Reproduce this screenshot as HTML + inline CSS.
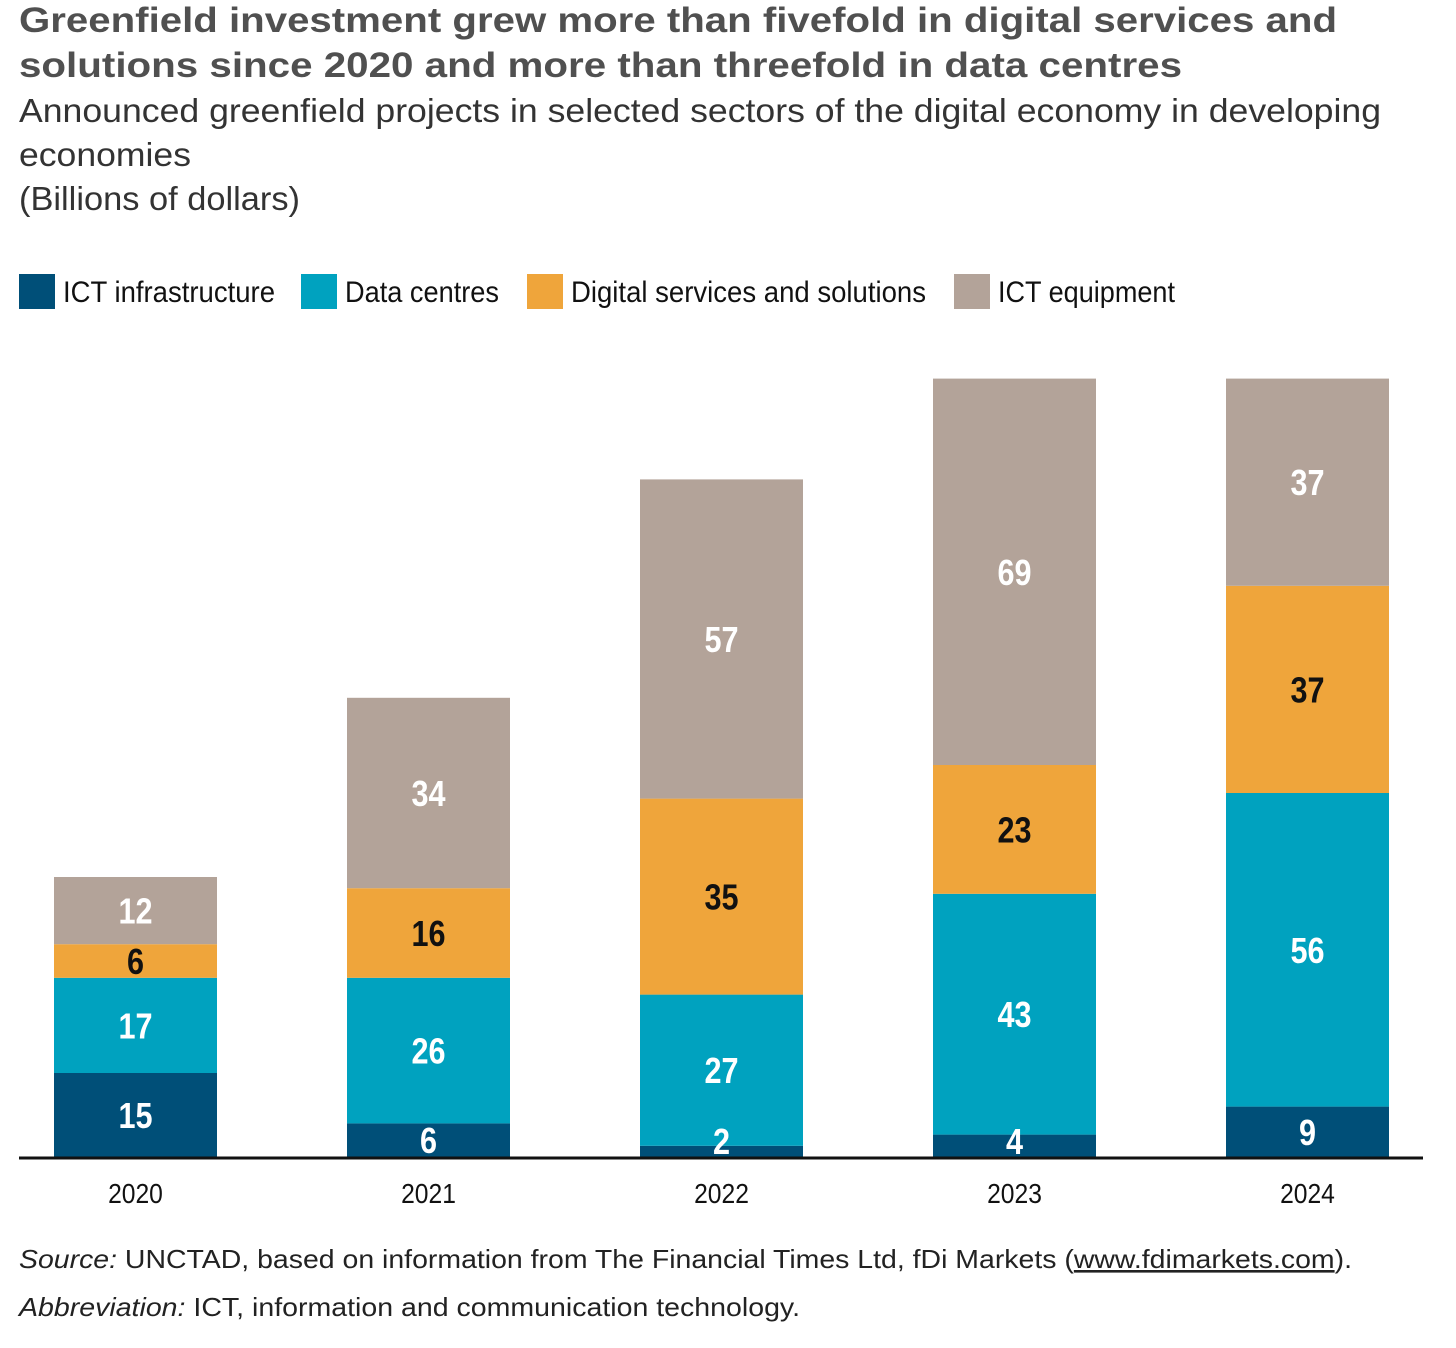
<!DOCTYPE html>
<html><head><meta charset="utf-8"><style>
html,body{margin:0;padding:0;background:#fff;}
svg{display:block;}
</style></head><body>
<svg id="chart" width="1456" height="1348" viewBox="0 0 1456 1348" xmlns="http://www.w3.org/2000/svg" font-family="Liberation Sans, sans-serif">
<text x="19" y="32" font-size="35" font-weight="bold" fill="#505050" textLength="1318" lengthAdjust="spacingAndGlyphs">Greenfield investment grew more than fivefold in digital services and</text>
<text x="19" y="77" font-size="35" font-weight="bold" fill="#505050" textLength="1163" lengthAdjust="spacingAndGlyphs">solutions since 2020 and more than threefold in data centres</text>
<text x="19" y="122" font-size="33" fill="#333" textLength="1362" lengthAdjust="spacingAndGlyphs">Announced greenfield projects in selected sectors of the digital economy in developing</text>
<text x="19" y="166" font-size="33" fill="#333" textLength="172" lengthAdjust="spacingAndGlyphs">economies</text>
<text x="19" y="210" font-size="33" fill="#333" textLength="281" lengthAdjust="spacingAndGlyphs">(Billions of dollars)</text>
<g id="legend"></g>
<g id="bars"></g>
<line x1="19" y1="1158" x2="1423" y2="1158" stroke="#111" stroke-width="3"/>
<g id="labels"></g>
<g id="xlabels"></g>
<text x="19" y="1268" font-size="26" fill="#222" textLength="1333" lengthAdjust="spacingAndGlyphs"><tspan font-style="italic">Source:</tspan> UNCTAD, based on information from The Financial Times Ltd, fDi Markets (<tspan text-decoration="underline">www.fdimarkets.com</tspan>).</text>
<text x="19" y="1316" font-size="26" fill="#222" textLength="781" lengthAdjust="spacingAndGlyphs"><tspan font-style="italic">Abbreviation:</tspan> ICT, information and communication technology.</text>
</svg>
<script>
const years = ["2020","2021","2022","2023","2024"];
const ictInfrastructure = [15,6,2,4,9];
const dataCentres = [17,26,27,43,56];
const digitalServices = [6,16,35,23,37];
const ictEquipment = [12,34,57,69,37];
const seriesNames = ["ICT infrastructure","Data centres","Digital services and solutions","ICT equipment"];

const NS="http://www.w3.org/2000/svg";
const colors=["#004f78","#00a2bf","#efa53b","#b3a399"];
const labelColors=["#fff","#fff","#111","#fff"];
const series=[ictInfrastructure,dataCentres,digitalServices,ictEquipment];
const baseY=1157, pxPerUnit=5.6;
const y=v=>baseY-v*pxPerUnit;
const x=i=>54+i*293;
const barW=163;
function mk(tag,attrs){const e=document.createElementNS(NS,tag);for(const k in attrs)e.setAttribute(k,attrs[k]);return e;}
const bars=document.getElementById('bars');
const labels=document.getElementById('labels');
years.forEach((yr,i)=>{
  let cum=0;
  series.forEach((s,j)=>{
    const v=s[i];
    const r=mk('rect',{x:x(i),y:y(cum+v),width:barW,height:v*pxPerUnit,fill:colors[j]});
    
    
    bars.appendChild(r);
    const cy=Math.min(y(cum+v/2),baseY-16);
    const cx=x(i)+barW/2;
    const t=mk('text',{x:cx,y:cy+13,'text-anchor':'middle','font-size':'36','font-weight':'bold',fill:labelColors[j]});
    
    
    t.setAttribute('transform','translate('+cx+',0) scale(0.85,1) translate('+(-cx)+',0)');
    t.textContent=v;
    labels.appendChild(t);
    cum+=v;
  });
  const cx=x(i)+barW/2;
  const xl=mk('text',{x:cx,y:1203,'text-anchor':'middle','font-size':'28',fill:'#111'});
  
  
  xl.setAttribute('transform','translate('+cx+',0) scale(0.88,1) translate('+(-cx)+',0)');
  xl.textContent=yr;
  document.getElementById('xlabels').appendChild(xl);
});
const legend=document.getElementById('legend');
const lx=[19,301,527,954], tl=[212,154,355,177];
seriesNames.forEach((n,j)=>{
  const r=mk('rect',{x:lx[j],y:274,width:36,height:35,fill:colors[j]});
  
  
  legend.appendChild(r);
  const t=mk('text',{x:lx[j]+44,y:302,'font-size':'30',fill:'#111',textLength:tl[j],lengthAdjust:'spacingAndGlyphs'});
  
  
  t.textContent=n;
  legend.appendChild(t);
});
</script>
</body></html>
